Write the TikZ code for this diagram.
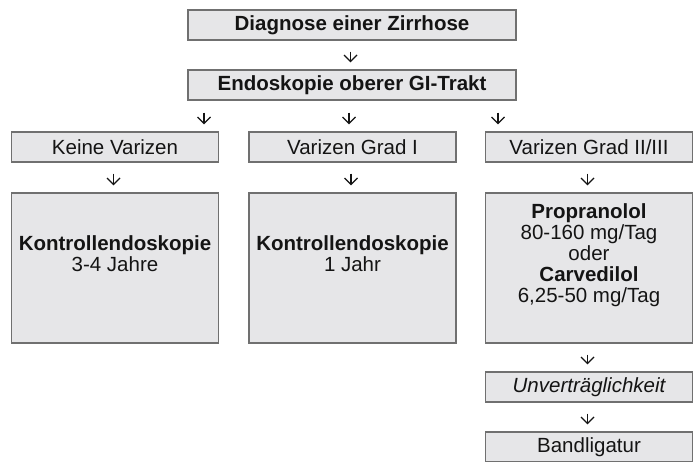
\documentclass[tikz,border=0pt]{standalone}
\usepackage{fontspec}
\setmainfont{Liberation Sans}
\usetikzlibrary{arrows.meta}
\definecolor{boxfill}{RGB}{230,230,232}
\definecolor{boxline}{RGB}{112,112,112}
\definecolor{txt}{RGB}{20,20,20}
\begin{document}
\fontsize{20.5}{21}\selectfont
\begin{tikzpicture}[x=1pt,y=-1pt,
  box/.style={draw=boxline, line width=1.3pt, fill=boxfill, text=txt,
    minimum width=207pt, minimum height=30pt, inner sep=0pt, align=center},
  bigbox/.style={box, minimum height=150pt},
  arr/.style={-{Straight Barb[length=6.5pt,width=13pt]}, line width=1.2pt, draw=txt,
    shorten <=11pt, shorten >=7pt}]
\useasboundingbox (0,0) rectangle (700,462);
\clip (0,0) rectangle (700,462);
\fill[white] (0,0) rectangle (700,462);

\node[box, minimum width=328pt, font=\bfseries] (diag) at (352,25) {Diagnose einer Zirrhose};
\node[box, minimum width=328pt, font=\bfseries] (endo) at (352,85) {Endoskopie oberer GI-Trakt};

\node[box] (kv)   at (115,147)   {Keine Varizen};
\node[box] (vg1)  at (352.5,147) {Varizen Grad I};
\node[box] (vg23) at (589,147)   {Varizen Grad II/III};

\node[bigbox] (kvb)   at (115,268)   {\textbf{Kontrollendoskopie}\\3-4 Jahre\\[8pt]~};
\node[bigbox] (vg1b)  at (352.5,268) {\textbf{Kontrollendoskopie}\\1 Jahr\\[8pt]~};
\node[bigbox] (vg23b) at (589,268)   {\textbf{Propranolol}\\80-160 mg/Tag\\oder\\\textbf{Carvedilol}\\6,25-50 mg/Tag\\[8pt]~};

\node[box, font=\itshape] (unv) at (589,387) {Unverträglichkeit};
\node[box] (band) at (589,447) {Bandligatur};

\draw[arr] ([xshift=-1.5pt]diag.south) -- ([xshift=-1.5pt]endo.north);

\draw[arr, shorten <=12pt] ([xshift=-148pt]endo.south) -- ([xshift=-148pt]endo.south |- kv.north);
\draw[arr, shorten <=12pt] ([xshift=-3pt]endo.south) -- ([xshift=-3pt]endo.south |- vg1.north);
\draw[arr, shorten <=12pt] ([xshift=146pt]endo.south) -- ([xshift=146pt]endo.south |- vg23.north);

\draw[arr] ([xshift=-1.5pt]kv.south) -- ([xshift=-1.5pt]kvb.north);
\draw[arr] ([xshift=-1.5pt]vg1.south) -- ([xshift=-1.5pt]vg1b.north);
\draw[arr] ([xshift=-1.5pt]vg23.south) -- ([xshift=-1.5pt]vg23b.north);

\draw[arr] ([xshift=-1.5pt]vg23b.south) -- ([xshift=-1.5pt]unv.north);
\draw[arr] ([xshift=-1.5pt]unv.south) -- ([xshift=-1.5pt]band.north);
\end{tikzpicture}
\end{document}
